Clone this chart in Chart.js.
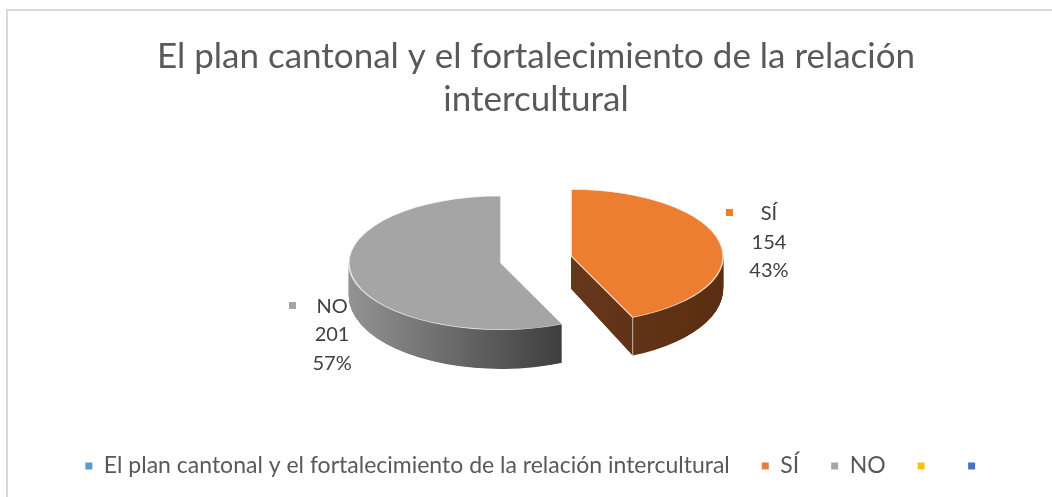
<!DOCTYPE html>
<html><head><meta charset="utf-8">
<script src="https://cdn.jsdelivr.net/npm/chart.js@4.4.0/dist/chart.umd.min.js"></script>
<style>
html,body{margin:0;padding:0;background:#fff;overflow:hidden;width:1052px;height:497px;}
#frame{position:absolute;left:6px;top:9px;width:2000px;height:2000px;border-left:2px solid #D9D9D9;border-top:2px solid #D9D9D9;}
canvas{position:absolute;left:0;top:0;}
</style></head><body>
<div id="frame"></div>
<canvas id="c" width="1052" height="497"></canvas>
<script>
// ---- data ----
const TITLE_LINES = ['El plan cantonal y el fortalecimiento de la relación', 'intercultural'];
const CATEGORIES = ['El plan cantonal y el fortalecimiento de la relación intercultural', 'SÍ', 'NO', '', ''];
const VALUES = [0, 154, 201, 0, 0];

// ---- style ----
const TOP_COLORS = ['#5B9BD5', '#ED7D31', '#A5A5A5', '#FFC000', '#4472C4'];
const SIDE_COLORS = [['#3D6E9C', '#2A4D6E'], ['#66371A', '#5A2E12'], ['#939393', '#3E3E3E'], ['#B38600', '#8A6700'], ['#2F5597', '#203A66']];
const FONT = 'Lato, "Open Sans", sans-serif';
const TILT = 0.44, DEPTH = 33, BULGE = 6, EXPLODE = 36, PIE_RADIUS = 152, PIE_DY = -17.5;
const LABEL_OFFSETS = {1: [49, 0], 2: [-20, 58]};
const LABEL_FONT = 20, LABEL_LINE = 28.5;

const pie3d = {
  id: 'pie3d',
  beforeDatasetsDraw(chart) {
    const ctx = chart.ctx;
    const arcs = chart.getDatasetMeta(0).data;
    const draw = (arc, opts) => {
      const fake = Object.create(arc);
      fake.options = Object.assign({}, arc.options, opts, {offset: 0});
      Chart.ArcElement.prototype.draw.call(fake, ctx);
    };
    const tiltAt = d => TILT + (BULGE / PIE_RADIUS) * d / DEPTH;
    const place = (arc, d) => {
      const mid = (arc.startAngle + arc.endAngle) / 2;
      ctx.translate(0, arc.y + PIE_DY + d);
      ctx.scale(1, tiltAt(d));
      ctx.translate(0, -arc.y);
      ctx.translate(Math.cos(mid) * EXPLODE, Math.sin(mid) * EXPLODE);
    };
    const visible = arc => arc.endAngle - arc.startAngle > 0;
    // sides (extrusion)
    arcs.forEach((arc, i) => {
      if (!visible(arc)) return;
      let mn = 0, mx = 0;
      for (let t = 0; t <= 100; t++) {
        const a = arc.startAngle + (arc.endAngle - arc.startAngle) * t / 100;
        mn = Math.min(mn, Math.cos(a)); mx = Math.max(mx, Math.cos(a));
      }
      const g = ctx.createLinearGradient(arc.x + mn * arc.outerRadius, 0, arc.x + mx * arc.outerRadius, 0);
      g.addColorStop(0, SIDE_COLORS[i][0]);
      g.addColorStop(1, SIDE_COLORS[i][1]);
      for (let d = DEPTH; d >= 1; d -= 0.5) {
        ctx.save(); place(arc, d);
        draw(arc, {backgroundColor: g, borderWidth: 0});
        ctx.restore();
      }
    });
    // vertical edges at front corners
    arcs.forEach(arc => {
      if (!visible(arc)) return;
      const mid = (arc.startAngle + arc.endAngle) / 2;
      [arc.startAngle, arc.endAngle].forEach(a => {
        if (Math.sin(a) <= 0.05) return;
        const x = arc.x + Math.cos(mid) * EXPLODE + Math.cos(a) * arc.outerRadius;
        const ly = Math.sin(mid) * EXPLODE + Math.sin(a) * arc.outerRadius;
        const y0 = arc.y + PIE_DY + ly * tiltAt(0);
        const y1 = arc.y + PIE_DY + DEPTH + ly * tiltAt(DEPTH);
        ctx.save();
        ctx.strokeStyle = 'rgba(255,255,255,0.55)';
        ctx.lineWidth = 1.2;
        ctx.beginPath(); ctx.moveTo(x, y0); ctx.lineTo(x, y1); ctx.stroke();
        ctx.restore();
      });
    });
    // top faces
    arcs.forEach((arc, i) => {
      if (!visible(arc)) return;
      ctx.save(); place(arc, 0);
      draw(arc, {backgroundColor: TOP_COLORS[i], borderColor: 'rgba(255,255,255,0.75)', borderWidth: 1.6});
      ctx.restore();
    });
    // data labels
    const total = VALUES.reduce((s, v) => s + v, 0);
    arcs.forEach((arc, i) => {
      if (!VALUES[i]) return;
      const mid = (arc.startAngle + arc.endAngle) / 2;
      const r = arc.outerRadius + EXPLODE;
      const px = arc.x + Math.cos(mid) * r;
      const py = arc.y + PIE_DY + Math.sin(mid) * r * TILT;
      const off = LABEL_OFFSETS[i] || [0, 0];
      const cx = px + off[0], cy = py + off[1];
      const lines = [CATEGORIES[i], String(VALUES[i]), Math.round(VALUES[i] / total * 100) + '%'];
      ctx.save();
      ctx.font = LABEL_FONT + 'px ' + FONT;
      ctx.fillStyle = '#404040';
      ctx.textAlign = 'center';
      ctx.textBaseline = 'middle';
      const maxW = Math.max(...lines.map(l => ctx.measureText(l).width));
      lines.forEach((l, j) => ctx.fillText(l, cx, cy + (j - 1) * LABEL_LINE));
      ctx.fillStyle = TOP_COLORS[i];
      ctx.fillRect(Math.round(cx - maxW / 2 - 23), Math.round(cy - LABEL_LINE - 4.5), 7, 7);
      ctx.restore();
    });
    return false;
  }
};

const baseLabels = Chart.overrides.doughnut.plugins.legend.labels.generateLabels;
new Chart(document.getElementById('c'), {
  type: 'pie',
  data: {
    labels: CATEGORIES,
    datasets: [{ data: VALUES, backgroundColor: TOP_COLORS, borderWidth: 0 }]
  },
  options: {
    responsive: false,
    devicePixelRatio: 1,
    animation: false,
    events: [],
    radius: PIE_RADIUS,
    layout: { padding: { left: 20, right: 0, top: 0, bottom: 9.5 } },
    plugins: {
      tooltip: { enabled: false },
      title: {
        display: true, text: TITLE_LINES, color: '#595959',
        font: { family: FONT, size: 35, weight: 'normal', lineHeight: 43 / 35 },
        padding: { top: 35.5, bottom: 10 }
      },
      legend: {
        position: 'bottom',
        labels: {
          boxWidth: 7, boxHeight: 7, padding: 32, color: '#595959',
          font: { family: FONT, size: 23 },
          generateLabels: (chart) => baseLabels(chart).map(l => Object.assign(l, { lineWidth: 0, strokeStyle: 'rgba(0,0,0,0)', hidden: false }))
        }
      }
    }
  },
  plugins: [pie3d]
});
</script>
</body></html>
